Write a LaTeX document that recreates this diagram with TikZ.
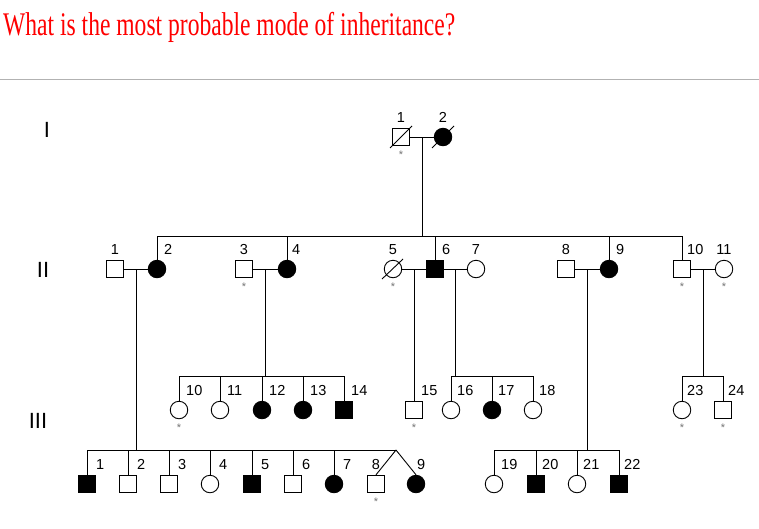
\documentclass[tikz,border=0pt]{standalone}
\usepackage{fontspec}
\setmainfont{Liberation Serif}
\setsansfont{Liberation Sans}
\usetikzlibrary{positioning, calc}

\begin{document}
\begin{tikzpicture}[
    x=1pt, y=-1pt,
    male/.style={rectangle, draw, minimum size=17.5pt, inner sep=0pt, line width=0.9pt, fill=white},
    female/.style={circle, draw, minimum size=17.5pt, inner sep=0pt, line width=0.9pt, fill=white},
    affected/.style={fill=black},
    num/.style={inner sep=0pt, font=\sffamily\fontsize{14.5}{15}\selectfont},
    gen/.style={inner sep=0pt, font=\sffamily\fontsize{22}{24}\selectfont},
    ast/.style={inner sep=0pt, text=black!55, font=\sffamily\fontsize{11}{11}\selectfont},
    rel/.style={line width=0.9pt},
    dead/.style={line width=0.9pt}
]
\useasboundingbox (0,0) rectangle (759,528);

% Title
\node[anchor=base west, inner sep=0pt, text=red, font=\rmfamily\fontsize{33}{36}\selectfont] (title) at (3,35) {\scalebox{0.714}[1]{What is the most probable mode of inheritance?}};
\coordinate (rule l) at (0,79);
\coordinate (rule r) at (759,79);
\draw[black!30, line width=1pt] (rule l) -- (rule r);

% Generations
\node[gen] (gI) at (47,130) {I};
\node[gen] (gII) at (43,270) {II};
\node[gen] (gIII) at (38,421) {III};

% Generation I
\node[male] (i1) at (401,137) {};
\node[female, affected] (i2) at (443,137) {};
\node[num, above=5pt of i1] (l-i1) {1};
\node[num, above=5pt of i2] (l-i2) {2};
\node[ast, below=5pt of i1] (a-i1) {*};
\draw[dead] ($(i1.center)+(-11,11)$) -- ($(i1.center)+(11,-11)$);
\draw[dead] ($(i2.center)+(-11,11)$) -- ($(i2.center)+(11,-11)$);

% Generation II
\node[male] (ii1) at (115,269) {};
\node[female, affected] (ii2) at (157,269) {};
\node[male] (ii3) at (244,269) {};
\node[female, affected] (ii4) at (287,269) {};
\node[female] (ii5) at (393,269) {};
\node[male, affected] (ii6) at (435,269) {};
\node[female] (ii7) at (476,269) {};
\node[male] (ii8) at (566,269) {};
\node[female, affected] (ii9) at (609,269) {};
\node[male] (ii10) at (682,269) {};
\node[female] (ii11) at (724,269) {};

\node[num, above=5pt of ii1] (l-ii1) {1};
\node[num, above right=5pt and 7pt of ii2.north] (l-ii2) {2};
\node[num, above=5pt of ii3] (l-ii3) {3};
\node[num, above right=5pt and 5pt of ii4.north] (l-ii4) {4};
\node[num, above=5pt of ii5] (l-ii5) {5};
\node[num, above right=5pt and 7pt of ii6.north] (l-ii6) {6};
\node[num, above=5pt of ii7] (l-ii7) {7};
\node[num, above=5pt of ii8] (l-ii8) {8};
\node[num, above right=5pt and 7pt of ii9.north] (l-ii9) {9};
\node[num, above right=5pt and 5pt of ii10.north] (l-ii10) {10};
\node[num, above=5pt of ii11] (l-ii11) {11};

\node[ast, below=5pt of ii3] (a-ii3) {*};
\node[ast, below=5pt of ii5] (a-ii5) {*};
\node[ast, below=5pt of ii10] (a-ii10) {*};
\node[ast, below=5pt of ii11] (a-ii11) {*};
\draw[dead] ($(ii5.center)+(-11,10)$) -- ($(ii5.center)+(10,-10)$);

% Generation III, upper row
\node[female] (iii10) at (179,410) {};
\node[female] (iii11) at (220,410) {};
\node[female, affected] (iii12) at (262,410) {};
\node[female, affected] (iii13) at (303,410) {};
\node[male, affected] (iii14) at (344,410) {};
\node[male] (iii15) at (414,410) {};
\node[female] (iii16) at (451,410) {};
\node[female, affected] (iii17) at (492,410) {};
\node[female] (iii18) at (533,410) {};
\node[female] (iii23) at (682,410) {};
\node[male] (iii24) at (723,410) {};

\node[num, above right=5pt and 7pt of iii10.north] (l-iii10) {10};
\node[num, above right=5pt and 7pt of iii11.north] (l-iii11) {11};
\node[num, above right=5pt and 7pt of iii12.north] (l-iii12) {12};
\node[num, above right=5pt and 7pt of iii13.north] (l-iii13) {13};
\node[num, above right=5pt and 7pt of iii14.north] (l-iii14) {14};
\node[num, above right=5pt and 7pt of iii15.north] (l-iii15) {15};
\node[num, above right=5pt and 6pt of iii16.north] (l-iii16) {16};
\node[num, above right=5pt and 6pt of iii17.north] (l-iii17) {17};
\node[num, above right=5pt and 6pt of iii18.north] (l-iii18) {18};
\node[num, above right=5pt and 5pt of iii23.north] (l-iii23) {23};
\node[num, above right=5pt and 5pt of iii24.north] (l-iii24) {24};

\node[ast, below=5pt of iii10] (a-iii10) {*};
\node[ast, below=5pt of iii15] (a-iii15) {*};
\node[ast, below=5pt of iii23] (a-iii23) {*};
\node[ast, below=5pt of iii24] (a-iii24) {*};

% Generation III, lower row
\node[male, affected] (iii1) at (87,484) {};
\node[male] (iii2) at (128,484) {};
\node[male] (iii3) at (169,484) {};
\node[female] (iii4) at (210,484) {};
\node[male, affected] (iii5) at (252,484) {};
\node[male] (iii6) at (293,484) {};
\node[female, affected] (iii7) at (334,484) {};
\node[male] (iii8) at (376,484) {};
\node[female, affected] (iii9) at (416,484) {};
\node[female] (iii19) at (494,484) {};
\node[male, affected] (iii20) at (536,484) {};
\node[female] (iii21) at (577,484) {};
\node[male, affected] (iii22) at (619,484) {};

\node[num, above right=5pt and 9pt of iii1.north] (l-iii1) {1};
\node[num, above right=5pt and 9pt of iii2.north] (l-iii2) {2};
\node[num, above right=5pt and 9pt of iii3.north] (l-iii3) {3};
\node[num, above right=5pt and 9pt of iii4.north] (l-iii4) {4};
\node[num, above right=5pt and 9pt of iii5.north] (l-iii5) {5};
\node[num, above right=5pt and 9pt of iii6.north] (l-iii6) {6};
\node[num, above right=5pt and 9pt of iii7.north] (l-iii7) {7};
\node[num, above=5pt of iii8] (l-iii8) {8};
\node[num, above right=5pt and 1pt of iii9.north] (l-iii9) {9};
\node[num, above right=5pt and 7pt of iii19.north] (l-iii19) {19};
\node[num, above right=5pt and 6pt of iii20.north] (l-iii20) {20};
\node[num, above right=5pt and 6pt of iii21.north] (l-iii21) {21};
\node[num, above right=5pt and 5pt of iii22.north] (l-iii22) {22};

\node[ast, below=5pt of iii8] (a-iii8) {*};

% Matings and sibships
\coordinate (m1) at ($(i1)!0.5!(i2)$);
\coordinate (s1) at (422,236);
\draw[rel] (i1) -- (i2);
\draw[rel] (m1) -- (s1);
\draw[rel] (ii2.north) |- (s1);
\draw[rel] (ii4.north) |- (s1);
\draw[rel] (ii6.north) |- (s1);
\draw[rel] (ii9.north) |- (s1);
\draw[rel] (ii10.north) |- (s1);

\draw[rel] (ii1) -- (ii2);
\draw[rel] (ii3) -- (ii4);
\draw[rel] (ii5) -- (ii6);
\draw[rel] (ii6) -- (ii7);
\draw[rel] (ii8) -- (ii9);
\draw[rel] (ii10) -- (ii11);

\coordinate (m2) at ($(ii1)!0.5!(ii2)$);
\coordinate (m3) at ($(ii3)!0.5!(ii4)$);
\coordinate (m4) at ($(ii5)!0.5!(ii6)$);
\coordinate (m5) at ($(ii6)!0.5!(ii7)$);
\coordinate (m6) at ($(ii8)!0.5!(ii9)$);
\coordinate (m7) at ($(ii10)!0.5!(ii11)$);

% II-3 x II-4
\coordinate (s3) at (m3 |- 0,376);
\draw[rel] (m3) -- (s3);
\draw[rel] (iii10.north) |- (s3);
\draw[rel] (iii11.north) |- (s3);
\draw[rel] (iii12.north) |- (s3);
\draw[rel] (iii13.north) |- (s3);
\draw[rel] (iii14.north) |- (s3);

% II-5 x II-6
\draw[rel] (m4) -- (m4 |- iii15.north);

% II-6 x II-7
\coordinate (s4) at (m5 |- 0,376);
\draw[rel] (m5) -- (s4);
\draw[rel] (iii16.north) |- (s4);
\draw[rel] (iii17.north) |- (s4);
\draw[rel] (iii18.north) |- (s4);

% II-10 x II-11
\coordinate (s5) at (m7 |- 0,376);
\draw[rel] (m7) -- (s5);
\draw[rel] (iii23.north) |- (s5);
\draw[rel] (iii24.north) |- (s5);

% II-1 x II-2
\coordinate (s2) at (m2 |- 0,450);
\coordinate (tw) at (396,450);
\draw[rel] (m2) -- (s2);
\draw[rel] (iii1.north) |- (s2);
\draw[rel] (iii2.north) |- (s2);
\draw[rel] (iii3.north) |- (s2);
\draw[rel] (iii4.north) |- (s2);
\draw[rel] (iii5.north) |- (s2);
\draw[rel] (iii6.north) |- (s2);
\draw[rel] (iii7.north) |- (s2);
\draw[rel] (s2) -- (tw);
\draw[rel] (tw) -- (iii8.north);
\draw[rel] (tw) -- (iii9.north);

% II-8 x II-9
\coordinate (s6) at (m6 |- 0,450);
\draw[rel] (m6) -- (s6);
\draw[rel] (iii19.north) |- (s6);
\draw[rel] (iii20.north) |- (s6);
\draw[rel] (iii21.north) |- (s6);
\draw[rel] (iii22.north) |- (s6);

\end{tikzpicture}
\end{document}
